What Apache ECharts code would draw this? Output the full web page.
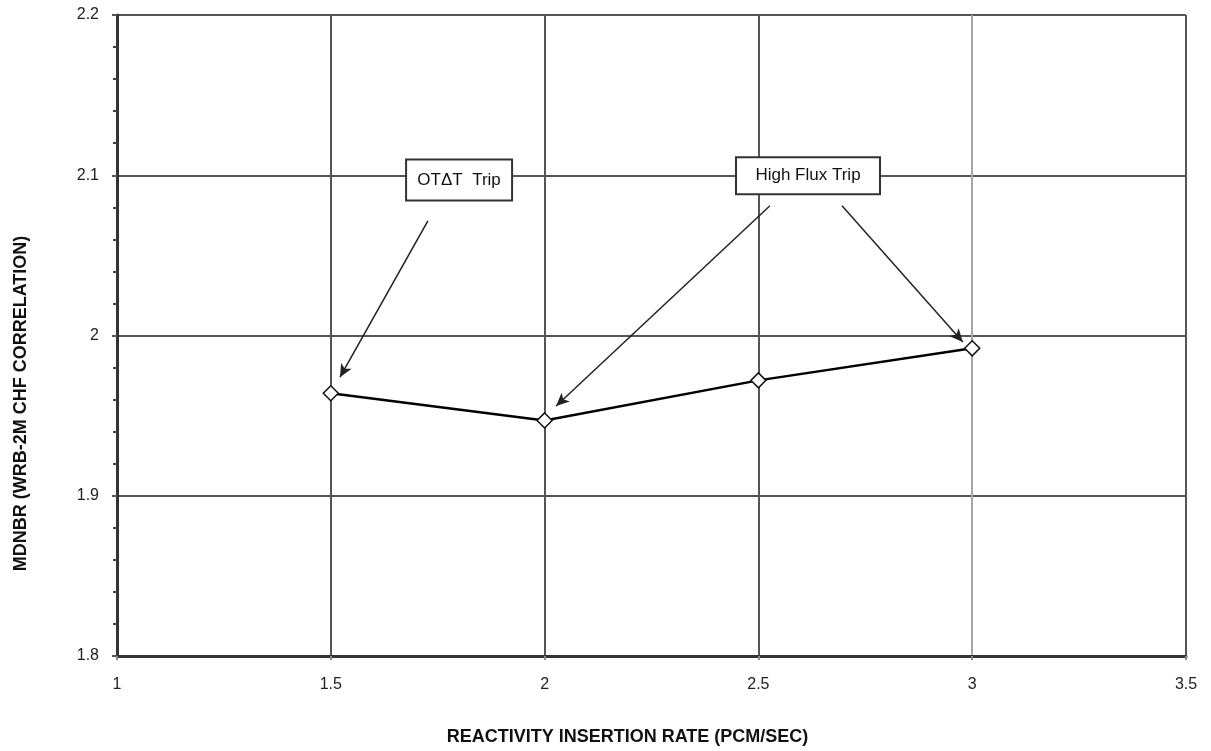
<!DOCTYPE html>
<html>
<head>
<meta charset="utf-8">
<script src="https://cdn.jsdelivr.net/npm/echarts@6/dist/echarts.min.js"></script>
<style>
html,body{margin:0;padding:0;background:#fff;}
#chart{width:1211px;height:751px;}
</style>
</head>
<body>
<div id="chart"></div>
<script>
var insertionRates = [1.5, 2, 2.5, 3];
var mdnbrValues = [1.964, 1.947, 1.972, 1.992];

var xTickLabels = ['1', '1.5', '2', '2.5', '3', '3.5'];
var yTickLabels = ['1.8', '1.9', '2', '2.1', '2.2'];

// annotation boxes: [x, y, text]
var annotationBoxes = [
  [1.800, 2.097, 'OT\u0394T  Trip'],
  [2.616, 2.0997, 'High Flux Trip']
];
// annotation arrows: [fromX, fromY, toX, toY]
var annotationArrows = [
  [1.727, 2.0716, 1.5215, 1.974],
  [2.527, 2.081, 2.027, 1.956],
  [2.6955, 2.081, 2.978, 1.996]
];

var font = '"Liberation Sans", Arial, sans-serif';
var chart = echarts.init(document.getElementById('chart'));

var points = insertionRates.map(function (x, i) { return [x, mdnbrValues[i]]; });
var boxSizes = [[104, 39], [142, 35]];

chart.setOption({
  animation: false,
  backgroundColor: '#ffffff',
  grid: { left: 117, right: 25, top: 15, bottom: 88, containLabel: false },
  xAxis: {
    type: 'value', min: 1, max: 3.5, interval: 0.5,
    name: 'REACTIVITY INSERTION RATE (PCM/SEC)',
    nameLocation: 'middle', nameGap: 72,
    nameTextStyle: { fontFamily: font, fontSize: 18, fontWeight: 'bold', color: '#111', padding: [0, 48, 0, 0] },
    axisLine: { show: true, onZero: false, lineStyle: { color: '#333', width: 3 } },
    axisTick: { show: true, inside: false, length: 4, lineStyle: { color: '#888', width: 2 } },
    axisLabel: {
      fontFamily: font, fontSize: 16, color: '#222', margin: 21,
      formatter: function (v) { return xTickLabels[Math.round((v - 1) / 0.5)]; }
    },
    splitLine: { show: true, lineStyle: { color: ['#555', '#555', '#555', '#555', '#a6a6a6', '#555'], width: 2 } }
  },
  yAxis: {
    type: 'value', min: 1.8, max: 2.2, interval: 0.1,
    name: 'MDNBR (WRB-2M CHF CORRELATION)',
    nameLocation: 'middle', nameGap: 87, nameRotate: 90,
    nameTextStyle: { fontFamily: font, fontSize: 18, fontWeight: 'bold', color: '#111', padding: [0, 136, 0, 0] },
    axisLine: { show: true, onZero: false, lineStyle: { color: '#333', width: 3 } },
    axisTick: { show: true, inside: false, length: 5, lineStyle: { color: '#555', width: 2 } },
    minorTick: { show: true, splitNumber: 5, length: 4, lineStyle: { color: '#444', width: 2 } },
    axisLabel: {
      fontFamily: font, fontSize: 16, color: '#222', margin: 18,
      formatter: function (v) { return yTickLabels[Math.round((v - 1.8) / 0.1)]; }
    },
    splitLine: { show: true, lineStyle: { color: '#555', width: 2 } }
  },
  series: [{
    type: 'line',
    data: points,
    symbol: 'diamond',
    symbolSize: 15,
    showAllSymbol: true,
    lineStyle: { color: '#000', width: 2.5 },
    itemStyle: { color: '#fff', borderColor: '#111', borderWidth: 1.5 },
    z: 5,
    markLine: {
      silent: true,
      symbol: ['none', 'arrow'],
      symbolSize: [9, 13],
      label: { show: false },
      lineStyle: { color: '#222', width: 1.5, type: 'solid' },
      data: annotationArrows.map(function (a) {
        return [{ coord: [a[0], a[1]] }, { coord: [a[2], a[3]] }];
      })
    },
    markPoint: {
      silent: true,
      data: annotationBoxes.map(function (b, i) {
        return {
          coord: [b[0], b[1]],
          symbol: 'circle',
          symbolSize: 1,
          itemStyle: { color: 'rgba(0,0,0,0)' },
          label: {
            show: true, position: 'inside', formatter: b[2],
            fontFamily: font, fontSize: 17, color: '#111',
            width: boxSizes[i][0], height: boxSizes[i][1], lineHeight: boxSizes[i][1],
            align: 'center', verticalAlign: 'middle',
            backgroundColor: '#fff', borderColor: '#333', borderWidth: 2
          }
        };
      })
    }
  }]
});
</script>
</body>
</html>
